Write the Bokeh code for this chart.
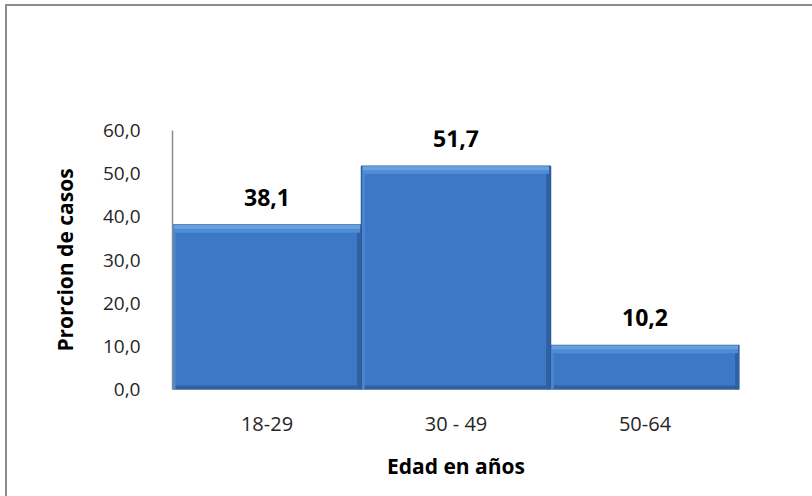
from bokeh.plotting import figure
from bokeh.layouts import column
from bokeh.models import ColumnDataSource, FactorRange, LabelSet, CustomJSTickFormatter
from bokeh.core.properties import value
from bokeh.transform import dodge
from bokeh.embed import file_html
from bokeh.resources import INLINE

categories = ["18-29", "30 - 49", "50-64"]
values = [38.1, 51.7, 10.2]
labels = ["38,1", "51,7", "10,2"]
y_ticks = [0, 10, 20, 30, 40, 50, 60]

FONT = "Open Sans"

src = ColumnDataSource(dict(x=categories, top=values, lab=labels,
                            hl=[v - 1.8 for v in values],
                            hl2=[v - 0.9 for v in values]))

p = figure(x_range=FactorRange(*categories, range_padding=0), y_range=(0, 60),
           width=805, height=490, output_backend="svg", toolbar_location=None,
           min_border_left=165, min_border_right=73, min_border_top=124, min_border_bottom=107)

# main bar body
p.vbar(x="x", top="top", bottom=0, width=1.0, source=src,
       fill_color="#3C78C6", line_color="#2C5A96", line_width=1.5)
# bottom darker bevel
p.vbar(x="x", top=0.9, bottom=0, width=0.985, source=src,
       fill_color="#335F9E", line_color=None)
# right darker bevel
p.vbar(x=dodge("x", 0.487, range=p.x_range), top="top", bottom=0, width=0.02, source=src,
       fill_color="#30609F", line_color=None)
# left lighter bevel
p.vbar(x=dodge("x", -0.49, range=p.x_range), top="top", bottom=0, width=0.014, source=src,
       fill_color="#4A86D2", line_color=None)
# top lighter bevel (two-step gradient)
p.vbar(x="x", top="top", bottom="hl", width=0.985, source=src,
       fill_color="#4F8CD6", line_color=None)
p.vbar(x="x", top="top", bottom="hl2", width=0.985, source=src,
       fill_color="#64A0E2", line_color=None)

p.add_layout(LabelSet(x="x", y="top", text="lab", source=src, y_offset=19,
                      text_align="center", text_baseline="alphabetic",
                      text_font=value(FONT), text_font_size="23px", text_font_style="bold",
                      text_color="#000000"))

p.xgrid.visible = False
p.ygrid.visible = False
p.outline_line_color = None

p.yaxis.ticker = y_ticks
p.yaxis.formatter = CustomJSTickFormatter(code="return tick.toFixed(1).replace('.', ',');")
p.yaxis.axis_line_color = "#8C8C8C"
p.yaxis.axis_line_width = 1.5
p.yaxis.major_tick_line_color = None
p.yaxis.minor_tick_line_color = None
p.yaxis.major_label_text_font = FONT
p.yaxis.major_label_text_font_size = "19px"
p.yaxis.major_label_text_color = "#262626"
p.yaxis.major_label_standoff = 26
p.yaxis.axis_label = "Prorcion de casos"
p.yaxis.axis_label_text_font = FONT
p.yaxis.axis_label_text_font_size = "21px"
p.yaxis.axis_label_text_font_style = "bold"
p.yaxis.axis_label_text_color = "#000000"
p.yaxis.axis_label_standoff = 21

p.xaxis.axis_line_color = None
p.xaxis.major_tick_line_color = None
p.xaxis.minor_tick_line_color = None
p.xaxis.major_label_text_font = FONT
p.xaxis.major_label_text_font_size = "20px"
p.xaxis.major_label_text_color = "#262626"
p.xaxis.major_label_standoff = 14
p.xaxis.axis_label = "Edad en años"
p.xaxis.axis_label_text_font = FONT
p.xaxis.axis_label_text_font_size = "21px"
p.xaxis.axis_label_text_font_style = "bold"
p.xaxis.axis_label_text_color = "#000000"
p.xaxis.axis_label_standoff = 12

layout = column(p, margin=(4, 0, 0, 5),
                styles={"border-left": "2px solid #8C8C8C", "border-top": "2px solid #8C8C8C"})

open("out.html", "w").write(file_html(layout, INLINE))
